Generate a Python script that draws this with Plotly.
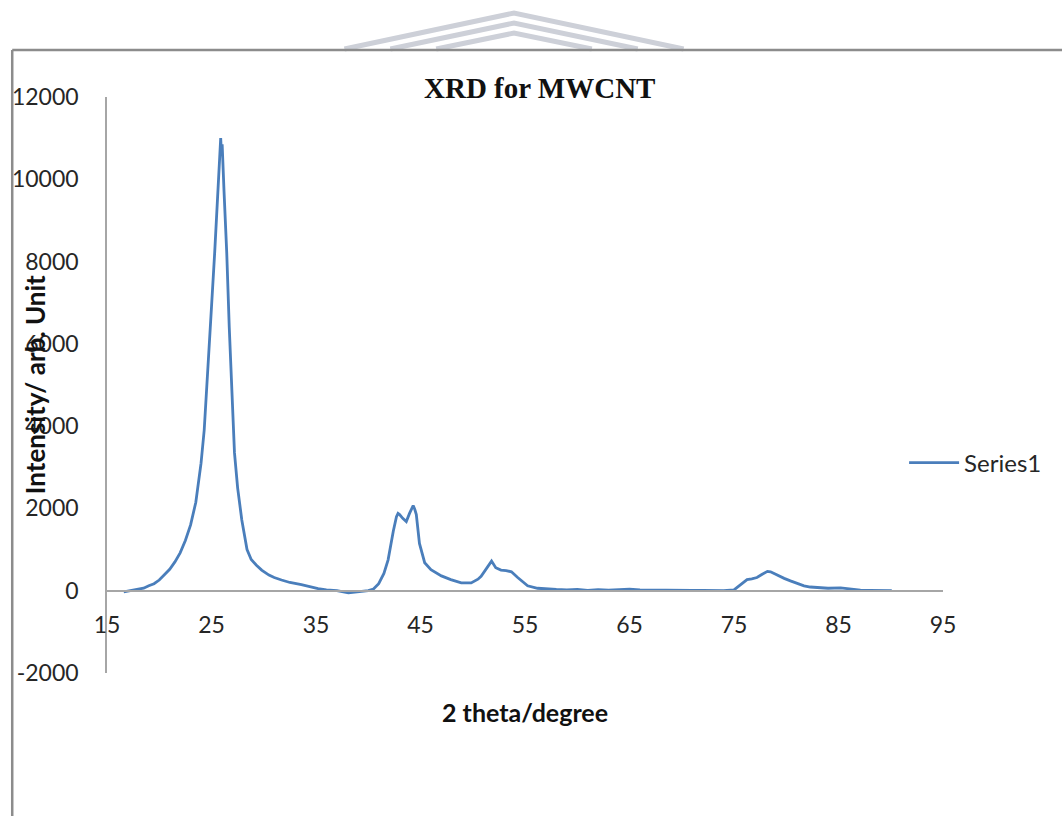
import plotly.graph_objects as go

# ---- data ----
two_theta = [16.6, 17.0, 17.5, 18.0, 18.5, 19.0, 19.5, 20.0, 20.5, 21.0, 21.5, 22.0, 22.5,
             23.0, 23.5, 24.0, 24.3, 24.6, 25.0, 25.3, 25.6, 25.8, 25.88, 25.95, 26.02,
             26.2, 26.46, 26.7, 26.93, 27.2, 27.5, 27.9, 28.4, 28.8, 29.3, 29.8, 30.5,
             31.0, 31.7, 32.5, 33.6, 34.5, 35.2, 36.0, 37.0, 38.1, 39.0, 40.0, 40.5,
             41.0, 41.5, 41.9, 42.4, 42.7, 42.85, 43.0, 43.3, 43.64, 43.95, 44.15, 44.3,
             44.45, 44.6, 44.9, 45.4, 46.0, 47.0, 47.9, 48.9, 49.85, 50.5, 50.8, 51.4,
             51.8, 52.2, 52.7, 53.2, 53.7, 54.3, 55.25, 56.2, 57.0, 58.0, 59.0, 60.0,
             61.0, 62.0, 63.0, 64.0, 65.0, 66.0, 67.0, 68.0, 69.0, 70.0, 71.0, 72.0,
             73.0, 74.0, 75.0, 75.6, 76.25, 76.7, 77.2, 77.7, 78.2, 78.5, 78.8, 79.3,
             79.8, 80.4, 81.0, 81.7, 82.3, 83.0, 84.0, 85.2, 86.0, 87.1, 88.0, 89.0, 90.1]
intensity = [-30, -10, 0, 40, 60, 120, 170, 260, 380, 520, 700, 920, 1220,
             1600, 2150, 3100, 3900, 5100, 6900, 8200, 9800, 10700, 11000, 10600, 10850,
             9700, 8200, 6400, 4950, 3350, 2500, 1720, 1000, 760, 620, 500, 380,
             320, 260, 200, 150, 90, 50, 20, 0, -50, -20, 0, 40,
             170, 420, 750, 1450, 1800, 1880, 1850, 1760, 1680, 1880, 2000, 2070,
             1980, 1850, 1150, 680, 510, 360, 270, 190, 190, 280, 350, 560,
             720, 560, 500, 490, 460, 320, 120, 60, 40, 30, 20, 30,
             10, 25, 15, 20, 40, 20, 15, 25, 10, 0, 5, 10,
             5, 0, 20, 150, 270, 290, 320, 400, 470, 460, 420, 360,
             300, 240, 180, 120, 90, 70, 60, 70, 40, 15, 10, 5, 0]

series_name = "Series1"
chart_title = "XRD for MWCNT"
x_title = "2 theta/degree"
y_title = "Intensity/ arb. Unit"
x_ticks = [15, 25, 35, 45, 55, 65, 75, 85, 95]
y_ticks = [-2000, 0, 2000, 4000, 6000, 8000, 10000, 12000]
y_tick_labels = [str(v) for v in y_ticks]   # plain hyphen minus, no "k" suffix

# ---- layout geometry (pixels) ----
W, H = 1062, 816
L, R, T, B = 105, 943, 97, 673   # plot area edges


def px(xp):
    return (xp - L) / (R - L)


def py(yp):
    return (B - yp) / (B - T)


LINE_BLUE = "#4a7ebb"
AXIS_GRAY = "#a6a6a6"
TEXT = "#262626"
FONT = "Lato"

fig = go.Figure()
fig.add_trace(go.Scatter(x=two_theta, y=intensity, mode="lines", name=series_name,
                         line=dict(color=LINE_BLUE, width=2.8)))

fig.update_layout(
    width=W, height=H,
    margin=dict(l=L, r=W - R, t=T, b=H - B),
    paper_bgcolor="white", plot_bgcolor="white",
    showlegend=True,
    legend=dict(x=px(904), y=py(463), xanchor="left", yanchor="middle",
                font=dict(family=FONT, size=24, color=TEXT),
                bgcolor="rgba(0,0,0,0)", itemwidth=50),
    xaxis=dict(range=[15, 95], tickvals=x_ticks, showgrid=False, zeroline=False,
               showline=True, linecolor=AXIS_GRAY, linewidth=1.5,
               anchor="free", position=py(591), ticks="",
               ticklabelstandoff=14,
               tickfont=dict(family=FONT, size=23, color=TEXT)),
    yaxis=dict(range=[-2000, 12000], tickvals=y_ticks, ticktext=y_tick_labels,
               showgrid=False, zeroline=False,
               showline=True, linecolor=AXIS_GRAY, linewidth=1.5, ticks="",
               ticklabelstandoff=22,
               tickfont=dict(family=FONT, size=23, color=TEXT)),
)

annotations = [
    dict(text="<b>" + chart_title + "</b>", x=px(539), y=py(88), xref="paper", yref="paper",
         showarrow=False, xanchor="center", yanchor="middle",
         font=dict(family="Liberation Serif", size=29, color="#111111")),
    dict(text="<b>" + x_title + "</b>", x=px(524), y=py(712), xref="paper", yref="paper",
         showarrow=False, xanchor="center", yanchor="middle",
         font=dict(family=FONT, size=25, color="#111111")),
    dict(text="<b>" + y_title + "</b>", x=px(33), y=py(385), xref="paper", yref="paper",
         showarrow=False, xanchor="center", yanchor="middle", textangle=-90,
         font=dict(family=FONT, size=26, color="#111111")),
]
fig.update_layout(annotations=annotations)

shapes = []
# outer frame (left and top edges of the chart area)
shapes.append(dict(type="line", xref="paper", yref="paper",
                   x0=px(10), y0=py(50), x1=px(10), y1=py(820),
                   line=dict(color="#8c8c8c", width=2.5)))
shapes.append(dict(type="line", xref="paper", yref="paper",
                   x0=px(10), y0=py(50), x1=px(1066), y1=py(50),
                   line=dict(color="#8c8c8c", width=2.5)))
# faint watermark chevrons above the frame
for apex, half in [(13, 170), (23, 124), (33, 78)]:
    path = "M {},{} L {},{} L {},{}".format(px(513 - half), py(49), px(513), py(apex),
                                            px(513 + half), py(49))
    shapes.append(dict(type="path", xref="paper", yref="paper", path=path,
                       line=dict(color="#cdd0d8", width=5), layer="below"))
fig.update_layout(shapes=shapes)

fig.write_html("out.html", config={"displayModeBar": False},
               post_script="document.body.style.margin='0';document.body.style.overflow='hidden';")
